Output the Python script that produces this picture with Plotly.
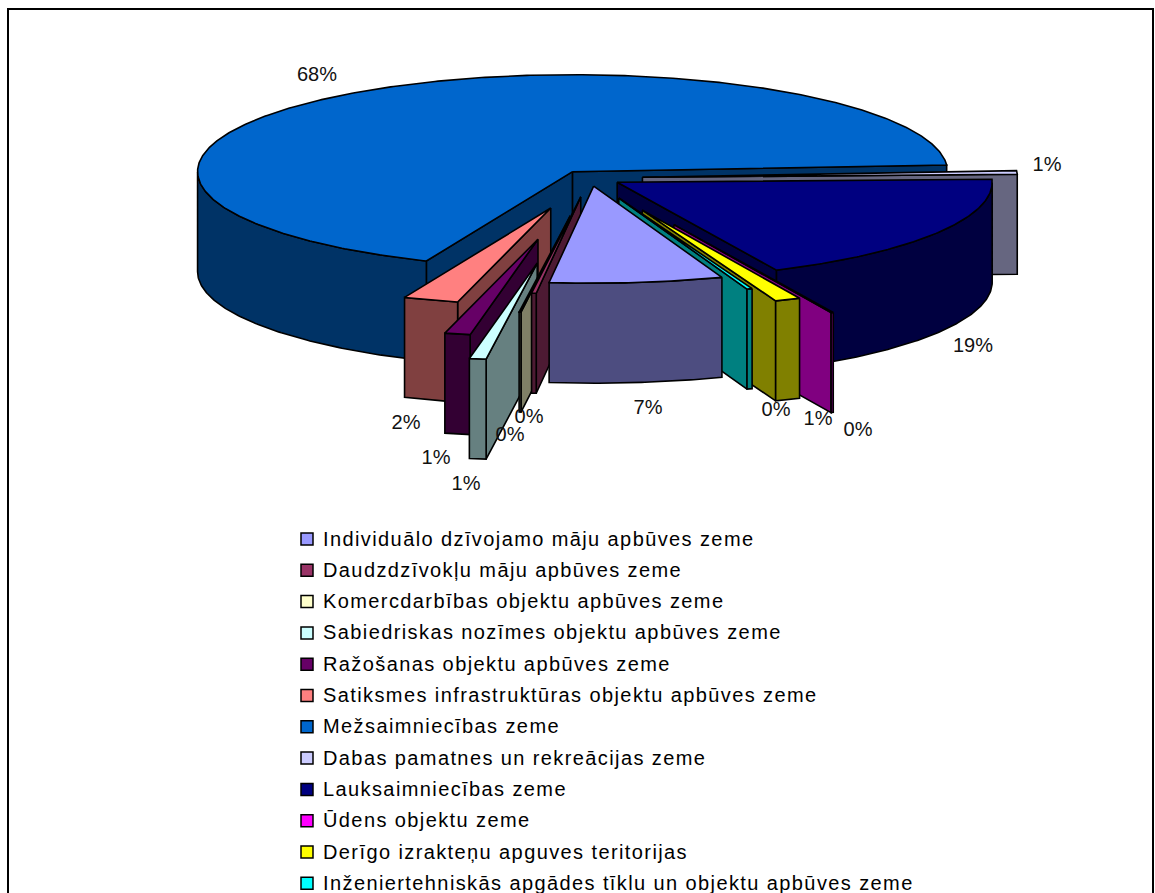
import math
import plotly.graph_objects as go

# legend order, clockwise from the first slice
categories = [
    "Individuālo dzīvojamo māju apbūves zeme",
    "Daudzdzīvokļu māju apbūves zeme",
    "Komercdarbības objektu apbūves zeme",
    "Sabiedriskas nozīmes objektu apbūves zeme",
    "Ražošanas objektu apbūves zeme",
    "Satiksmes infrastruktūras objektu apbūves zeme",
    "Mežsaimniecības zeme",
    "Dabas pamatnes un rekreācijas zeme",
    "Lauksaimniecības zeme",
    "Ūdens objektu zeme",
    "Derīgo izrakteņu apguves teritorijas",
    "Inženiertehniskās apgādes tīklu un objektu apbūves zeme",
]
values = [7.45, 0.2, 0.08, 0.72, 1.1, 2.38, 67.52, 0.6, 18.52, 0.1, 1.1, 0.23]
top_colors = ["#9999FF", "#993366", "#FFFFCC", "#CCFFFF", "#660066", "#FF8080",
              "#0066CC", "#CCCCFF", "#000080", "#FF00FF", "#FFFF00", "#00FFFF"]
wall_colors = ["#4D4D80", "#4D1A33", "#808066", "#668080", "#330033", "#804040",
               "#003366", "#666680", "#000040", "#800080", "#808000", "#008080"]
explode = [0.085, 0.197, 0.395, 0.888, 0.646, 0.327, 0.08, 0.14, 0.085, 0.53, 0.36, 0.22]

# where each slice's percent label sits, in picture pixels
label_x = [648, 529, 510, 466, 436, 406, 317, 1047, 973, 858, 818, 776]
label_y = [409, 418, 436, 485, 459, 424, 76, 166, 347, 431, 420, 411]

# pie geometry
CX, CY = 590, 178
RX, RY = 375, 97
DEPTH = 100
START_ANGLE = 70
LINE = 1.6

# back to front
draw_order = [6, 7, 8, 9, 10, 11, 5, 4, 3, 2, 1, 0]


def poly(fig, pts, color):
    fig.add_trace(
        go.Scatter(
            x=[p[0] for p in pts] + [pts[0][0]],
            y=[p[1] for p in pts] + [pts[0][1]],
            mode="lines",
            fill="toself",
            fillcolor=color,
            line=dict(color="black", width=LINE),
            hoverinfo="skip",
        )
    )


def add_slice(fig, i, t0, t1):
    mid = math.radians((t0 + t1) / 2)
    ax = CX + explode[i] * RX * math.cos(mid)
    ay = CY + explode[i] * RY * math.sin(mid)

    def rim(t):
        return ax + RX * math.cos(math.radians(t)), ay + RY * math.sin(math.radians(t))

    def down(p):
        return p[0], p[1] + DEPTH

    # radial walls, only the ones turned to the viewer
    for t, normal in ((t0, t0 - 90), (t1, t1 + 90)):
        if math.sin(math.radians(normal)) > 0:
            p = rim(t)
            poly(fig, [(ax, ay), p, down(p), (ax, ay + DEPTH)], wall_colors[i])

    # outer wall, front half of the rim only
    n = max(2, int((t1 - t0) * 2))
    ts = [t0 + (t1 - t0) * k / n for k in range(n + 1)]
    front = [t for t in ts if math.sin(math.radians(t)) >= 0]
    if len(front) > 1:
        upper = [rim(t) for t in front]
        poly(fig, upper + [down(p) for p in reversed(upper)], wall_colors[i])

    # top face
    poly(fig, [(ax, ay)] + [rim(t) for t in ts], top_colors[i])


fig = go.Figure()

angles = [START_ANGLE]
for v in values:
    angles.append(angles[-1] + v / sum(values) * 360)

for i in draw_order:
    add_slice(fig, i, angles[i], angles[i + 1])

# legend, drawn by hand because the original runs off the bottom of the page
legend_y = [540.5 + 31.3 * k for k in range(len(categories))]
fig.add_trace(
    go.Scatter(
        x=[307] * len(categories),
        y=[y - 1.5 for y in legend_y],
        mode="markers",
        marker=dict(symbol="square", size=12, color=top_colors, line=dict(color="black", width=1.5)),
        hoverinfo="skip",
    )
)
fig.add_trace(
    go.Scatter(
        x=[323] * len(categories),
        y=legend_y,
        mode="text",
        text=categories,
        textposition="middle right",
        textfont=dict(family="Liberation Sans", size=20, color="black"),
        hoverinfo="skip",
    )
)

fig.add_trace(
    go.Scatter(
        x=label_x,
        y=label_y,
        mode="text",
        text=[f"{v:.0f}%" for v in values],
        textposition="middle center",
        textfont=dict(family="Liberation Sans", size=20, color="#111111"),
        hoverinfo="skip",
    )
)

fig.update_layout(
    width=1155,
    height=893,
    margin=dict(l=0, r=0, t=0, b=0),
    showlegend=False,
    paper_bgcolor="white",
    plot_bgcolor="white",
    xaxis=dict(range=[0, 1155], visible=False),
    yaxis=dict(range=[893, 0], visible=False),
    shapes=[
        dict(type="rect", xref="x", yref="y", x0=8, y0=9, x1=1153, y1=920,
             line=dict(color="black", width=2)),
    ],
)

# the old chart's legend text is spaced wider than the font
post = """
document.body.style.margin = '0';
document.body.style.overflow = 'hidden';
document.querySelectorAll('.textpoint text').forEach(function (t) {
    if (t.textContent.length > 5) { t.style.letterSpacing = '1.4px'; }
});
"""
fig.write_html("out.html", post_script=post, config={"displayModeBar": False})
